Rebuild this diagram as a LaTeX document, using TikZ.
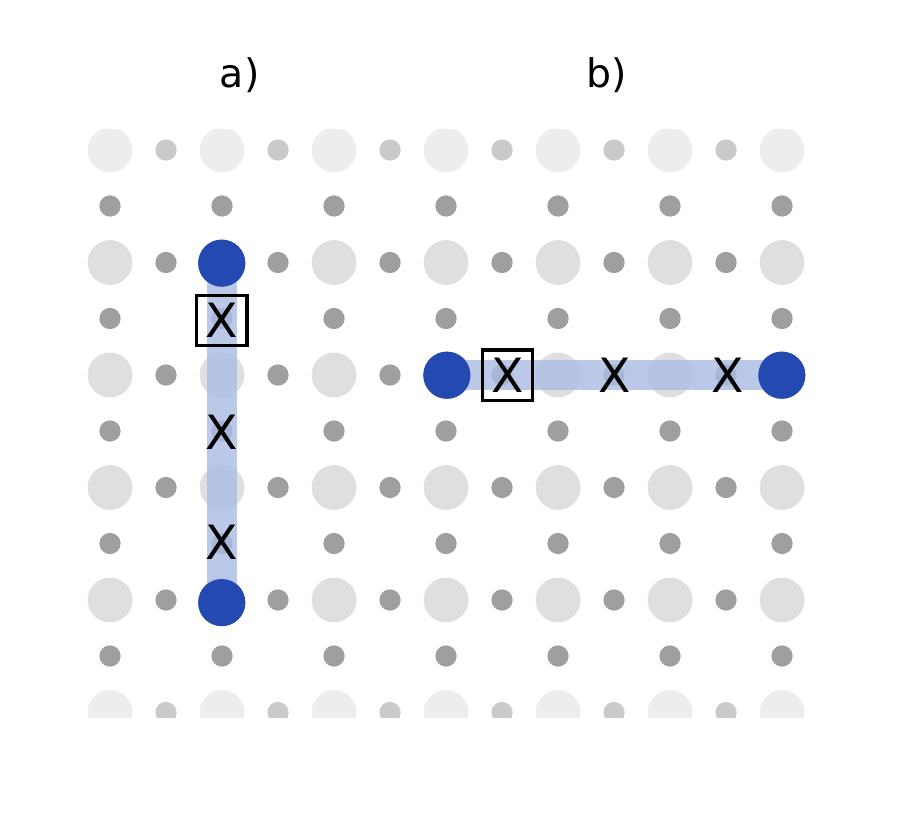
\documentclass[tikz,border=0pt]{standalone}
\usepackage{fontspec}
\setmainfont{DejaVu Sans}
\usetikzlibrary{positioning}

\definecolor{qblue}{HTML}{2449B0}
\definecolor{bandblue}{HTML}{A9BCE2}

\tikzset{
  site/.style={circle, fill=gray!25, inner sep=0pt, minimum size=0.4cm},
  link/.style={circle, fill=gray!75, inner sep=0pt, minimum size=0.19cm},
  qubit/.style={circle, fill=qblue, inner sep=0pt, minimum size=0.42cm},
  band/.style={line width=0.27cm, bandblue, opacity=0.8},
  err/.style={inner sep=1pt, font=\large},
  meas/.style={err, draw, thick, minimum size=0.45cm}
}

\begin{document}
\begin{tikzpicture}[x=1cm, y=1cm]
\useasboundingbox (0,0) rectangle (8.196,-7.25);

% lattice
\begin{scope}
\clip (0.76,-1.16) rectangle (7.43,-6.41);
\foreach \i in {0,...,6} {
  \foreach \j in {0,...,5} {
    \pgfmathsetmacro{\xx}{(110+112*\i)/112}
    \pgfmathsetmacro{\yy}{-(150+112.5*\j)/112}
    \node[site] at (\xx,\yy) {};
    \node[link] at (\xx,\yy-0.5) {};
    \ifnum\i<6 \node[link] at (\xx+0.5,\yy) {}; \fi
  }
}
\end{scope}
% fade towards the edges
\fill[white, opacity=0.45] (0.7,-1.1) rectangle (7.5,-1.6);
\fill[white, opacity=0.45] (0.7,-6.05) rectangle (7.5,-6.5);

% a) vertical string
\node (la) at (2.14,-0.67) {a)};
\node[qubit] (a1) at (1.98,-2.35) {};
\node[qubit] (a2) at (1.98,-5.38) {};
\draw[band] (a1.center) -- (a2.center);
\node[qubit] at (a1) {};
\node[qubit] at (a2) {};
\node[meas] (am) at (1.98,-2.86) {X};
\node[err] (ax1) at (1.98,-3.86) {X};
\node[err] (ax2) at (1.98,-4.84) {X};

% b) horizontal string
\node (lb) at (5.42,-0.67) {b)};
\node[qubit] (b1) at (3.99,-3.35) {};
\node[qubit] (b2) at (6.98,-3.35) {};
\draw[band] (b1.center) -- (b2.center);
\node[qubit] at (b1) {};
\node[qubit] at (b2) {};
\node[meas] (bm) at (4.53,-3.35) {X};
\node[err] (bx1) at (5.49,-3.35) {X};
\node[err] (bx2) at (6.50,-3.35) {X};
\end{tikzpicture}
\end{document}
